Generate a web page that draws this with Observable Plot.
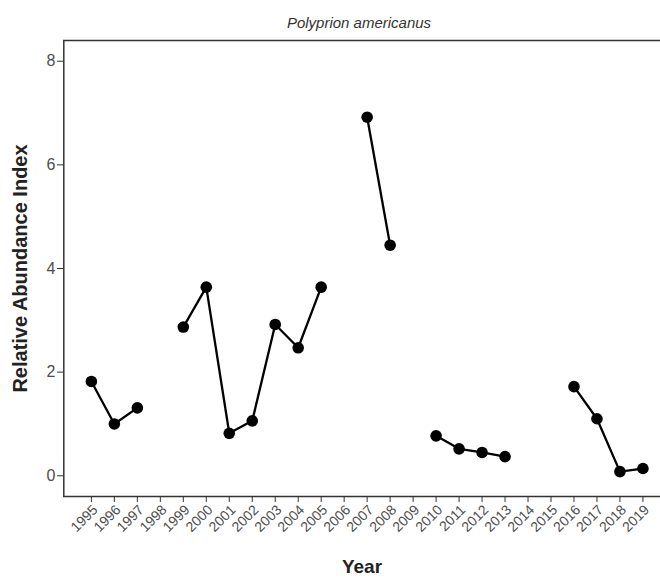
<!DOCTYPE html>
<html>
<head>
<meta charset="utf-8">
<script src="https://cdn.jsdelivr.net/npm/d3@7"></script>
<script src="https://cdn.jsdelivr.net/npm/@observablehq/plot@0.6"></script>
<style>
  html, body { margin: 0; padding: 0; background: white; overflow: hidden; }
  #chart svg { display: block; }
</style>
</head>
<body>
<div id="chart"></div>
<script>
const title = "Polyprion americanus";
const xLabel = "Year";
const yLabel = "Relative Abundance Index";
const years = [1995,1996,1997,1998,1999,2000,2001,2002,2003,2004,2005,2006,2007,2008,2009,2010,2011,2012,2013,2014,2015,2016,2017,2018,2019];
const values = [1.82,1.00,1.31,null,2.87,3.64,0.82,1.06,2.92,2.47,3.64,null,6.92,4.45,null,0.77,0.52,0.45,0.37,null,null,1.72,1.10,0.08,0.14];
const yTicks = [0,2,4,6,8];

const data = years.map((y, i) => ({year: y, value: values[i] == null ? NaN : values[i]}));
const present = data.filter(d => !isNaN(d.value));

const font = "'Liberation Sans', Arial, sans-serif";
const xDomain = [1993.8, 2020.2];
const yDomain = [-0.4, 8.4];

const chart = Plot.plot({
  width: 660,
  height: 583,
  marginLeft: 63,
  marginRight: 0,
  marginTop: 40,
  marginBottom: 87,
  style: {fontFamily: font, background: "white"},
  x: {domain: xDomain, range: [63.3, 670], ticks: years, tickFormat: d => String(d), tickRotate: -45, label: null},
  y: {domain: yDomain, ticks: yTicks, label: null},
  marks: [
    Plot.axisY({ticks: yTicks, tickSize: 6, fontSize: 16, color: "#4d4d4d", stroke: "#333", tickPadding: 2, label: null}),
    Plot.axisX({ticks: years, tickSize: 6, stroke: "#333", fill: "none", label: null}),
    Plot.axisX({ticks: years, tickFormat: d => String(d), tickRotate: -45, tickSize: 0, tickPadding: 11, dx: 4, fontSize: 14, fill: "#4d4d4d", label: null}),
    Plot.ruleY([yDomain[1]], {stroke: "#333", strokeWidth: 1.5}),
    Plot.ruleY([yDomain[0]], {stroke: "#333", strokeWidth: 1.5}),
    Plot.ruleX([xDomain[0]], {stroke: "#333", strokeWidth: 1.5}),
    Plot.line(data, {x: "year", y: "value", stroke: "black", strokeWidth: 2.3}),
    Plot.dot(present, {x: "year", y: "value", r: 5.8, fill: "black", stroke: "none"}),
    Plot.text([title], {frameAnchor: "top", dy: -23, dx: -3, fontStyle: "italic", fontSize: 15, fill: "#333"}),
    Plot.text([yLabel], {frameAnchor: "left", textAnchor: "middle", dx: -43, rotate: -90, fontWeight: "bold", fontSize: 20, fill: "#222"}),
    Plot.text([xLabel], {frameAnchor: "bottom", dy: 76, fontWeight: "bold", fontSize: 19, fill: "#222"})
  ]
});
document.getElementById("chart").appendChild(chart);
</script>
</body>
</html>
